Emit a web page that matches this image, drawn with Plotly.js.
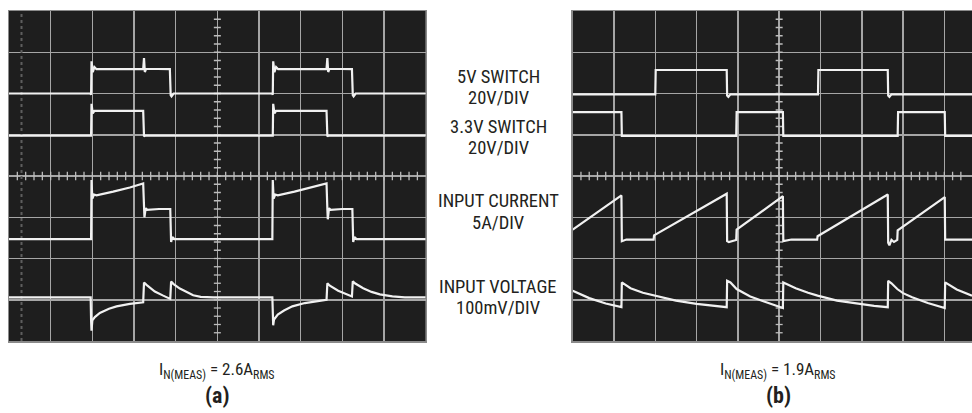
<!DOCTYPE html>
<html><head><meta charset="utf-8">
<script src="https://cdn.plot.ly/plotly-3.0.1.min.js"></script>
<style>html,body{margin:0;padding:0;background:#fff}#chart{width:972px;height:413px}</style>
</head><body><div id="chart"></div>
<script>
// ---- Panel (a): x in horizontal divisions (0-10), y in vertical divisions (0-8)
const aSw5X  = [0, 1.95, 1.97, 1.98, 2.01, 2.05, 2.10, 3.22, 3.24, 3.26, 3.29, 3.86, 3.88, 3.90, 3.95, 6.31, 6.33, 6.34, 6.37, 6.41, 6.46, 7.62, 7.64, 7.66, 7.69, 8.23, 8.25, 8.27, 8.32, 10];
const aSw5Y  = [6.0, 6.0, 5.97, 6.78, 6.52, 6.64, 6.59, 6.59, 6.86, 6.52, 6.60, 6.59, 5.96, 5.93, 6.0, 6.0, 5.97, 6.78, 6.52, 6.64, 6.59, 6.59, 6.86, 6.52, 6.60, 6.59, 5.96, 5.93, 6.0, 6.0];
const aSw33X = [0, 1.97, 1.98, 2.01, 2.05, 3.22, 3.24, 3.27, 6.33, 6.34, 6.37, 6.41, 7.62, 7.64, 7.67, 10];
const aSw33Y = [4.98, 4.98, 5.75, 5.52, 5.58, 5.58, 4.96, 4.98, 4.98, 5.75, 5.52, 5.58, 5.58, 4.96, 4.98, 4.98];
const aCurX  = [0, 1.97, 1.98, 2.00, 2.04, 2.10, 2.50, 2.90, 3.22, 3.24, 3.25, 3.28, 3.32, 3.60, 3.87, 3.89, 3.92, 3.97, 4.50, 6.32, 6.33, 6.35, 6.39, 6.45, 6.85, 7.25, 7.62, 7.64, 7.65, 7.68, 7.72, 8.00, 8.24, 8.26, 8.29, 8.34, 9.00, 10];
const aCurY  = [2.47, 2.47, 3.90, 3.45, 3.55, 3.53, 3.62, 3.72, 3.82, 3.20, 3.00, 3.22, 3.18, 3.20, 3.20, 2.40, 2.52, 2.47, 2.47, 2.47, 3.90, 3.45, 3.55, 3.53, 3.62, 3.72, 3.82, 3.20, 2.95, 3.22, 3.18, 3.20, 3.20, 2.40, 2.52, 2.47, 2.47, 2.47];
const aVinX  = [0, 1.96, 1.97, 1.98, 2.00, 2.06, 2.18, 2.40, 2.58, 2.90, 3.22, 3.24, 3.30, 3.50, 3.70, 3.87, 3.89, 3.95, 4.10, 4.26, 4.42, 4.60, 4.90, 6.32, 6.33, 6.34, 6.36, 6.45, 6.60, 6.80, 7.10, 7.40, 7.62, 7.64, 7.70, 7.90, 8.10, 8.23, 8.25, 8.30, 8.50, 8.70, 8.90, 9.20, 9.50, 10];
const aVinY  = [1.06, 1.06, 0.50, 0.25, 0.50, 0.58, 0.68, 0.78, 0.84, 0.90, 0.94, 1.42, 1.36, 1.20, 1.10, 1.02, 1.44, 1.38, 1.27, 1.18, 1.11, 1.07, 1.06, 1.06, 0.50, 0.38, 0.52, 0.64, 0.74, 0.84, 0.92, 0.97, 1.00, 1.40, 1.34, 1.22, 1.13, 1.08, 1.45, 1.40, 1.28, 1.19, 1.13, 1.08, 1.06, 1.06];
// faint photographic streak near the left edge of screen (a)
const aStreakX = [0.30, 0.30];
const aStreakY = [0, 8];

// ---- Panel (b): x in horizontal divisions (0-9.67 visible), y in vertical divisions (0-8)
const bSw5X  = [0, 2.00, 2.01, 3.73, 3.74, 3.77, 3.82, 5.94, 5.95, 7.63, 7.64, 7.67, 7.72, 9.67];
const bSw5Y  = [5.98, 5.98, 6.57, 6.57, 5.95, 5.92, 5.98, 5.98, 6.57, 6.57, 5.95, 5.92, 5.98, 5.98];
const bSw33X = [0, 1.18, 1.19, 3.96, 3.97, 5.09, 5.10, 7.87, 7.88, 9.01, 9.02, 9.67];
const bSw33Y = [5.55, 5.55, 4.97, 4.97, 5.55, 5.55, 4.97, 4.97, 5.55, 5.55, 4.97, 4.97];
const bCurX  = [0, 1.18, 1.19, 1.30, 1.96, 1.97, 3.73, 3.74, 3.78, 3.96, 3.97, 5.09, 5.10, 5.30, 5.92, 5.93, 7.63, 7.64, 7.67, 7.72, 7.78, 7.86, 7.87, 9.01, 9.02, 9.20, 9.67];
const bCurY  = [2.70, 3.53, 2.42, 2.46, 2.46, 2.56, 3.57, 2.42, 2.40, 2.45, 2.70, 3.51, 2.42, 2.46, 2.46, 2.54, 3.55, 2.38, 2.32, 2.45, 2.40, 2.45, 2.68, 3.49, 2.46, 2.46, 2.46];
const bVinX  = [0, 0.40, 0.80, 1.18, 1.19, 1.40, 1.70, 1.97, 2.50, 3.00, 3.40, 3.73, 3.74, 3.82, 3.97, 4.30, 4.60, 4.85, 5.09, 5.10, 5.40, 5.70, 5.93, 6.40, 6.90, 7.30, 7.63, 7.64, 7.72, 7.86, 8.00, 8.22, 8.60, 9.01, 9.02, 9.30, 9.67];
const bVinY  = [1.22, 1.04, 0.91, 0.82, 1.42, 1.28, 1.17, 1.10, 0.98, 0.90, 0.85, 0.82, 1.46, 1.42, 1.26, 1.08, 0.97, 0.88, 0.80, 1.42, 1.28, 1.17, 1.10, 0.98, 0.90, 0.85, 0.82, 1.46, 1.40, 1.26, 1.16, 1.06, 0.92, 0.80, 1.42, 1.25, 1.10];

// ---- Text
const midLabels   = ['5V SWITCH', '20V/DIV', '3.3V SWITCH', '20V/DIV', 'INPUT CURRENT', '5A/DIV', 'INPUT VOLTAGE', '100mV/DIV'];
const measLabels  = ['I<sub>N(MEAS)</sub> = 2.6A<sub>RMS</sub>', 'I<sub>N(MEAS)</sub> = 1.9A<sub>RMS</sub>'];
const panelLabels = ['(a)', '(b)'];

// ---- Layout constants (pixels)
const W = 972, H = 413;
const midY = [76.7, 97.7, 126.7, 148.3, 200.7, 222.7, 286.7, 308.3];
const midX = 498;
const panelCX = [217, 778];
const measY = 370, panelY = 395;

const traceColor = '#f1f1f1';
const traceW = 2.2;
const FONT = '"Roboto Condensed", "Liberation Sans Narrow", "Arial Narrow", "DejaVu Sans Condensed", sans-serif';

function wave(x, y, xa, ya) {
  return {x: x, y: y, xaxis: xa, yaxis: ya, type: 'scatter', mode: 'lines',
          line: {color: traceColor, width: traceW}, hoverinfo: 'skip', showlegend: false};
}

// graticule minor ticks on the centre lines (axis decoration)
function graticule(xa, ya, xmax) {
  const hx = [], hy = [], vx = [], vy = [];
  for (let i = 1; i < Math.round(xmax * 5); i++) { hx.push(i / 5); hy.push(4); }
  for (let j = 1; j < 40; j++) { vx.push(5); vy.push(j / 5); }
  return [
    {x: hx, y: hy, xaxis: xa, yaxis: ya, mode: 'markers', type: 'scatter', hoverinfo: 'skip', showlegend: false,
     marker: {symbol: 'line-ns', size: 6, line: {color: '#bdbdbd', width: 1.3}}},
    {x: vx, y: vy, xaxis: xa, yaxis: ya, mode: 'markers', type: 'scatter', hoverinfo: 'skip', showlegend: false,
     marker: {symbol: 'line-ew', size: 5, line: {color: '#bdbdbd', width: 1.3}}}
  ];
}

const data = [
  {x: aStreakX, y: aStreakY, xaxis: 'x', yaxis: 'y', type: 'scatter', mode: 'lines', hoverinfo: 'skip', showlegend: false,
   line: {color: '#5e5e5e', width: 2, dash: 'dot'}},
  ...graticule('x', 'y', 10),
  ...graticule('x2', 'y2', 9.67),
  wave(aSw5X, aSw5Y, 'x', 'y'), wave(aSw33X, aSw33Y, 'x', 'y'),
  wave(aCurX, aCurY, 'x', 'y'), wave(aVinX, aVinY, 'x', 'y'),
  wave(bSw5X, bSw5Y, 'x2', 'y2'), wave(bSw33X, bSw33Y, 'x2', 'y2'),
  wave(bCurX, bCurY, 'x2', 'y2'), wave(bVinX, bVinY, 'x2', 'y2')
];

const gridCol = '#a6a6a6';
function xax(dom, rng) {
  return {domain: dom, range: rng, dtick: 1, tick0: 0, showgrid: true, gridcolor: gridCol, gridwidth: 1.5,
          zeroline: false, showticklabels: false, ticks: '', showline: true, mirror: true,
          linecolor: '#8a8a8a', linewidth: 1.5, fixedrange: true};
}
function yax(dom) {
  return {domain: dom, range: [0, 8], dtick: 1, tick0: 0, showgrid: true, gridcolor: gridCol, gridwidth: 1.5,
          zeroline: false, showticklabels: false, ticks: '', showline: true, mirror: true,
          linecolor: '#8a8a8a', linewidth: 1.5, fixedrange: true};
}
const yDom = [(H - 341) / H, (H - 11) / H];

const annotations = [];
midLabels.forEach((t, i) => annotations.push({
  text: t, xref: 'paper', yref: 'paper', x: midX / W, y: 1 - midY[i] / H,
  xanchor: 'center', yanchor: 'middle', showarrow: false,
  font: {family: FONT, size: 18.5, color: '#231f20'}
}));
measLabels.forEach((t, i) => annotations.push({
  text: t, xref: 'paper', yref: 'paper', x: panelCX[i] / W, y: 1 - measY / H,
  xanchor: 'center', yanchor: 'middle', showarrow: false,
  font: {family: FONT, size: 17, color: '#231f20'}
}));
panelLabels.forEach((t, i) => annotations.push({
  text: '<b>' + t + '</b>', xref: 'paper', yref: 'paper', x: panelCX[i] / W, y: 1 - panelY / H,
  xanchor: 'center', yanchor: 'middle', showarrow: false,
  font: {family: FONT, size: 22, color: '#231f20'}
}));

const layout = {
  width: W, height: H,
  margin: {l: 0, r: 0, t: 0, b: 0, pad: 0},
  paper_bgcolor: '#ffffff', plot_bgcolor: '#1e1e1e',
  showlegend: false,
  xaxis: Object.assign(xax([9 / W, 425.7 / W], [0, 10]), {anchor: 'y'}),
  yaxis: Object.assign(yax(yDom), {anchor: 'x'}),
  xaxis2: Object.assign(xax([572.7 / W, 1], [0, 9.67]), {anchor: 'y2'}),
  yaxis2: Object.assign(yax(yDom), {anchor: 'x2'}),
  annotations: annotations
};

Plotly.newPlot('chart', data, layout, {staticPlot: true, displayModeBar: false});
</script>
</body></html>
